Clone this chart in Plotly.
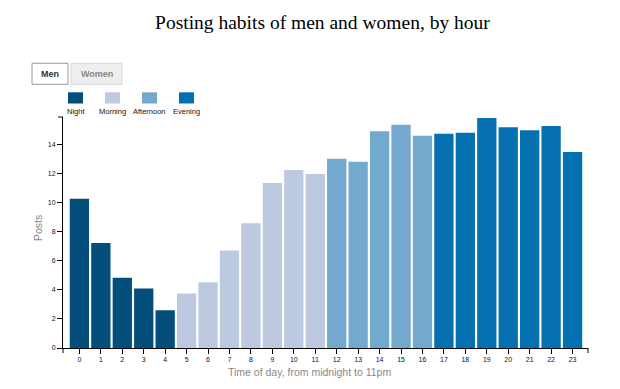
import plotly.graph_objects as go

hours = list(range(24))
posts = [10.28, 7.24, 4.83, 4.10, 2.60, 3.75, 4.53, 6.72, 8.60, 11.36,
         12.26, 11.98, 13.03, 12.83, 14.92, 15.38, 14.62, 14.76, 14.83,
         15.84, 15.20, 14.99, 15.29, 13.50]
periods = ["Night", "Morning", "Afternoon", "Evening"]
period_hours = {
    "Night": [0, 1, 2, 3, 4],
    "Morning": [5, 6, 7, 8, 9, 10, 11],
    "Afternoon": [12, 13, 14, 15, 16],
    "Evening": [17, 18, 19, 20, 21, 22, 23],
}
colors = {"Night": "#034e7b", "Morning": "#bdc9e1",
          "Afternoon": "#74a9cf", "Evening": "#0570b0"}
buttons = ["Men", "Women"]

W, H = 620, 389
L, R, T, B = 63, 32, 117, 41
PW, PH = W - L - R, H - T - B


def px(x):
    return (x - L) / PW


def py(y):
    return (H - B - y) / PH


fig = go.Figure()
for p in periods:
    xs = period_hours[p]
    fig.add_trace(go.Bar(
        x=xs, y=[posts[h] for h in xs], width=0.9,
        marker=dict(color=colors[p], line=dict(width=0)),
        name=p, showlegend=False,
        hovertemplate="%{x}:00 — %{y:.2f}<extra>" + p + "</extra>",
    ))

shapes = []
annotations = []

# custom legend: squares with labels underneath
leg_x = [68, 105, 142, 179]
for i, p in enumerate(periods):
    x0 = leg_x[i]
    shapes.append(dict(type="rect", xref="paper", yref="paper",
                       x0=px(x0), x1=px(x0 + 15), y0=py(103.5), y1=py(92.3),
                       fillcolor=colors[p], line=dict(width=0)))
    annotations.append(dict(xref="paper", yref="paper", x=px(x0 + 7.5), y=py(111.7),
                            text=p, showarrow=False, xanchor="center", yanchor="middle",
                            font=dict(family="Liberation Sans", size=7.5, color="#111")))

# toggle buttons (Men selected)
btn_boxes = [(32, 68), (71, 122)]
for i, b in enumerate(buttons):
    x0, x1 = btn_boxes[i]
    sel = i == 0
    shapes.append(dict(type="rect", xref="paper", yref="paper",
                       x0=px(x0), x1=px(x1), y0=py(84.3), y1=py(63.3),
                       fillcolor="#ffffff" if sel else "#eeeeee",
                       line=dict(color="#9a9a9a" if sel else "#d6d6d6", width=1)))
    annotations.append(dict(xref="paper", yref="paper", x=px((x0 + x1) / 2), y=py(73.8),
                            text="<b>" + b + "</b>", showarrow=False,
                            xanchor="center", yanchor="middle",
                            font=dict(family="Liberation Sans", size=9,
                                      color="#333" if sel else "#888")))

# d3-style outer ticks
shapes.append(dict(type="line", xref="paper", yref="paper", xsizemode="pixel",
                   xanchor=0, x0=-5, x1=0, y0=1, y1=1, line=dict(color="#000", width=1)))
for xa in (0, 1):
    shapes.append(dict(type="line", xref="paper", yref="paper", ysizemode="pixel",
                       yanchor=0, y0=0, y1=-5, x0=xa, x1=xa, line=dict(color="#000", width=1)))

# axis titles
annotations.append(dict(xref="paper", yref="paper", x=px(309.5), y=py(372),
                        text="Time of day, from midnight to 11pm", showarrow=False,
                        xanchor="center", yanchor="middle",
                        font=dict(family="Liberation Sans", size=10.5, color="#888")))
annotations.append(dict(xref="paper", yref="paper", x=px(38), y=py(228),
                        text="Posts", showarrow=False, textangle=-90,
                        xanchor="center", yanchor="middle",
                        font=dict(family="Liberation Sans", size=10.5, color="#888")))

fig.update_layout(
    width=W, height=H,
    margin=dict(l=L, r=R, t=T, b=B),
    paper_bgcolor="white", plot_bgcolor="white",
    barmode="overlay",
    title=dict(text="Posting habits of men and women, by hour",
               x=0.52, xanchor="center", y=1 - 22 / H, yanchor="middle",
               yref="container",
               font=dict(family="Liberation Serif", size=19.5, color="#000")),
    shapes=shapes, annotations=annotations,
    xaxis=dict(range=[-0.765, 23.72], tickvals=hours, ticktext=[str(h) for h in hours],
               showgrid=False, zeroline=False, showline=True, linecolor="#000",
               linewidth=1, ticks="outside", ticklen=5, tickcolor="#000",
               tickfont=dict(family="Liberation Sans", size=7, color="#111")),
    yaxis=dict(range=[0, 15.91], dtick=2, tick0=0,
               showgrid=False, zeroline=False, showline=True, linecolor="#000",
               linewidth=1, ticks="outside", ticklen=5, tickcolor="#000",
               tickfont=dict(family="Liberation Sans", size=7, color="#111")),
)

fig.write_html("out.html", config={"displayModeBar": False},
               post_script="document.body.style.margin='0';document.body.style.overflow='hidden';")
